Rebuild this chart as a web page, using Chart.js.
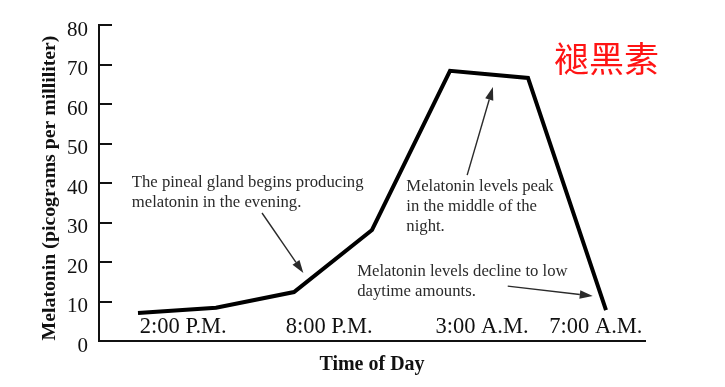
<!DOCTYPE html>
<html><head><meta charset="utf-8">
<script src="https://cdn.jsdelivr.net/npm/chart.js@4.4.1/dist/chart.umd.min.js"></script>
<style>html,body{margin:0;padding:0;background:#fff;}#wrap{width:725px;height:387px;}</style>
</head><body><div id="wrap"><canvas id="c" width="725" height="387"></canvas></div>
<script>
// ---- data ----
const pointIndex = [0, 1, 2, 3, 4, 5, 6];
const melatonin = [7.1, 8.4, 12.4, 28.1, 68.4, 66.6, 7.8];
const timeLabels = ['2:00 P.M.', '8:00 P.M.', '3:00 A.M.', '7:00 A.M.'];
const timeLabelAt = [0.58, 2.45, 4.41, 5.87];
const yTickValues = [0, 10, 20, 30, 40, 50, 60, 70, 80];
const yTitle = 'Melatonin (picograms per milliliter)';
const xTitle = 'Time of Day';
const cornerTitle = '褪黑素';
const noteTexts = [
  ['The pineal gland begins producing', 'melatonin in the evening.'],
  ['Melatonin levels peak', 'in the middle of the', 'night.'],
  ['Melatonin levels decline to low', 'daytime amounts.']
];

// annotation placement (data units)
const noteLayout = [
  {x: -0.08, y: 40.0, from: [1.59, 32.4], to: [2.12, 17.2]},
  {x: 3.44, y: 39.0, from: [4.22, 42.0], to: [4.55, 64.3]},
  {x: 2.81, y: 17.5, from: [4.74, 13.9], to: [5.83, 11.4]}
];

const SERIF = '"Liberation Serif", "DejaVu Serif", serif';

function arrow(ctx, x1, y1, x2, y2) {
  const ang = Math.atan2(y2 - y1, x2 - x1);
  const L = 13, W = 4.2;
  const bx = x2 - L * Math.cos(ang), by = y2 - L * Math.sin(ang);
  ctx.beginPath();
  ctx.moveTo(x1, y1);
  ctx.lineTo(bx, by);
  ctx.stroke();
  ctx.beginPath();
  ctx.moveTo(x2, y2);
  ctx.lineTo(bx + W * Math.sin(ang), by - W * Math.cos(ang));
  ctx.lineTo(bx - W * Math.sin(ang), by + W * Math.cos(ang));
  ctx.closePath();
  ctx.fill();
}

const overlay = {
  id: 'overlay',
  afterDraw(chart) {
    const ctx = chart.ctx, xs = chart.scales.x, ys = chart.scales.y, ca = chart.chartArea;
    ctx.save();
    // inward y tick marks
    ctx.strokeStyle = '#111';
    ctx.lineWidth = 2;
    yTickValues.forEach(v => {
      const py = Math.round(ys.getPixelForValue(v));
      ctx.beginPath();
      ctx.moveTo(ca.left, py);
      ctx.lineTo(ca.left + 13, py);
      ctx.stroke();
    });
    // y axis title
    ctx.save();
    ctx.translate(50, (ca.top + ca.bottom) / 2 + 5);
    ctx.rotate(-Math.PI / 2);
    ctx.fillStyle = '#111';
    ctx.font = 'bold 19.8px ' + SERIF;
    ctx.textAlign = 'center';
    ctx.textBaseline = 'middle';
    ctx.fillText(yTitle, 0, 0);
    ctx.restore();
    // time labels
    ctx.fillStyle = '#111';
    ctx.font = '22.5px ' + SERIF;
    ctx.textAlign = 'center';
    ctx.textBaseline = 'middle';
    timeLabels.forEach((t, i) => {
      ctx.fillText(t, xs.getPixelForValue(timeLabelAt[i]), ys.getPixelForValue(3.5));
    });
    // annotations
    ctx.font = '16.7px ' + SERIF;
    ctx.textAlign = 'left';
    ctx.fillStyle = '#2a2a2a';
    ctx.strokeStyle = '#2a2a2a';
    ctx.lineWidth = 1.4;
    noteTexts.forEach((lines, i) => {
      const n = noteLayout[i];
      const px = xs.getPixelForValue(n.x), py = ys.getPixelForValue(n.y);
      lines.forEach((ln, k) => ctx.fillText(ln, px, py + k * 20));
      arrow(ctx, xs.getPixelForValue(n.from[0]), ys.getPixelForValue(n.from[1]),
                 xs.getPixelForValue(n.to[0]), ys.getPixelForValue(n.to[1]));
    });
    // corner title
    ctx.fillStyle = '#ff1414';
    ctx.font = '35px "Noto Sans CJK SC", sans-serif';
    ctx.textAlign = 'left';
    ctx.textBaseline = 'middle';
    ctx.fillText(cornerTitle, 554, 59);
    ctx.restore();
  }
};

new Chart(document.getElementById('c'), {
  type: 'line',
  data: {
    datasets: [{
      data: pointIndex.map((x, i) => ({x: x, y: melatonin[i]})),
      borderColor: '#000',
      borderWidth: 4,
      pointRadius: 0,
      tension: 0,
      fill: false
    }]
  },
  options: {
    responsive: false,
    animation: false,
    devicePixelRatio: 1,
    layout: {padding: {left: 0, right: 80, top: 25, bottom: 0}},
    plugins: {legend: {display: false}, tooltip: {enabled: false}},
    scales: {
      x: {
        type: 'linear', min: -0.5, max: 6.5,
        grid: {display: false, drawTicks: false},
        border: {display: true, color: '#111', width: 2},
        ticks: {display: false},
        title: {display: true, text: xTitle, color: '#111',
                font: {family: SERIF, size: 20, weight: 'bold'},
                padding: {top: 0, bottom: 10}},
        afterFit(s) { s.height = 46; }
      },
      y: {
        min: 0, max: 80,
        grid: {display: false, drawTicks: false},
        border: {display: true, color: '#111', width: 2},
        ticks: {stepSize: 10, color: '#111', padding: 11, labelOffset: 5,
                font: {family: SERIF, size: 21}},
        afterFit(s) { s.width = 99; }
      }
    }
  },
  plugins: [overlay]
});
</script>
</body></html>
